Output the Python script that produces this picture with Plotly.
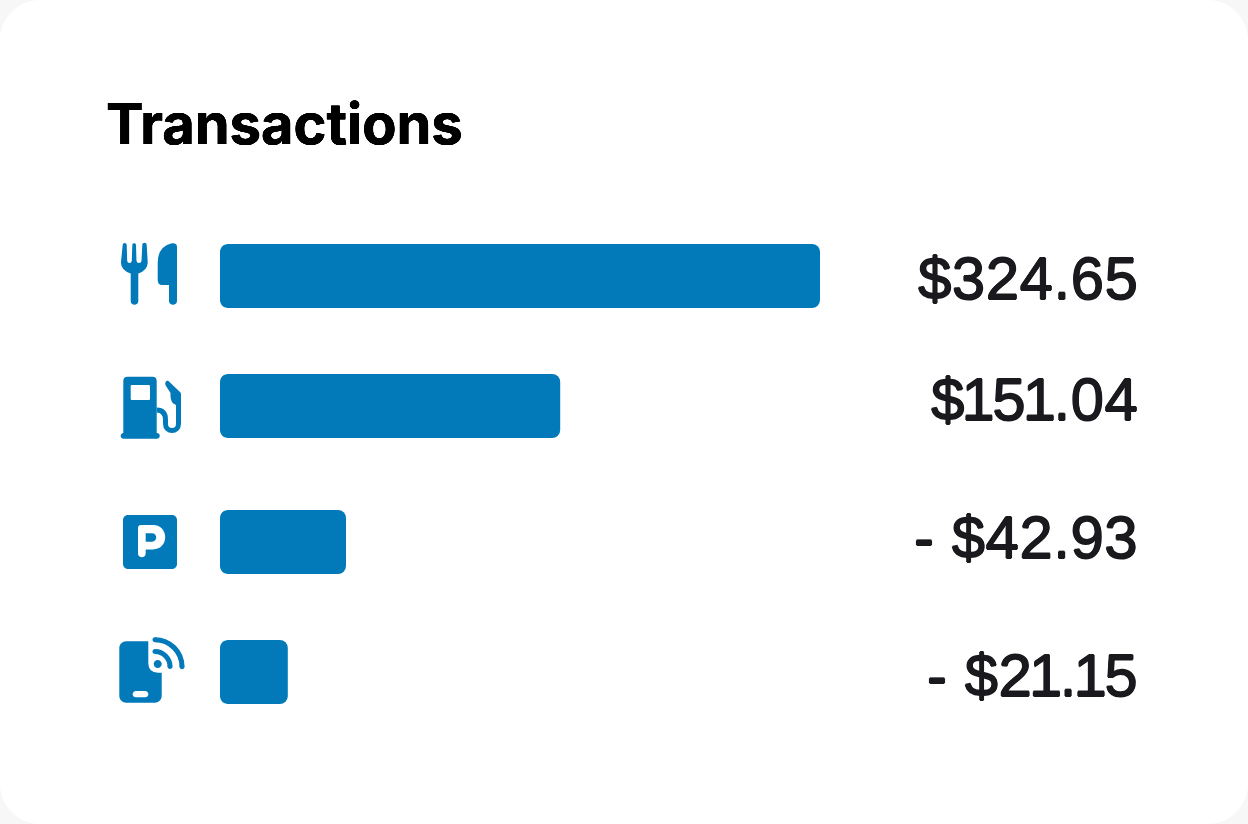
import plotly.graph_objects as go

# Table contents
title = "Transactions"
amounts = ["$324.65", "$151.04", "- $42.93", "- $21.15"]
# Bar lengths on a 0-100 scale; they are not proportional to the printed amounts
bar_lengths = [100, 56.7, 21, 11.3]

# Layout constants (pixels on the 1248x824 canvas)
W, H = 1248, 824
BAR_LEFT, BAR_RIGHT = 220, 820
BAR_THICKNESS = 64
BAR_RADIUS = 8
row_centres = [276, 406, 542, 672]
label_centres = [278, 399, 537, 675]
AMOUNT_RIGHT = 1140
BLUE = "#027ABA"
INK = "#1A1A1E"
OUTSIDE = "#F7F7F7"
CORNER = 40
KAPPA = 0.5523


def embolden(color, amount):
    # Text shadow that thickens a face slightly
    return ", ".join(f"{dx}px {dy}px 0 {color}" for dx, dy in
                     [(amount, 0), (-amount, 0), (0, amount), (0, -amount)])


def set_amount(text):
    # Opens the figures a little and closes up the space on both sides of each narrow 1
    parts = []
    for i, ch in enumerate(text):
        if ch == "1":
            parts.append(f'<span style="letter-spacing:-2.5px">{ch}</span>')
        elif i + 1 < len(text) and text[i + 1] == "1":
            parts.append(f'<span style="letter-spacing:-3px">{ch}</span>')
        else:
            parts.append(ch)
    return f'<span style="letter-spacing:0.5px">{"".join(parts)}</span>'


fig = go.Figure()
fig.add_trace(go.Bar(
    x=bar_lengths, y=row_centres, orientation="h", width=BAR_THICKNESS,
    marker=dict(color=BLUE, line=dict(width=0)), hoverinfo="skip",
    xaxis="x", yaxis="y",
))


def glyph(path, color=BLUE):
    return dict(type="path", xref="x2", yref="y", path=path, fillcolor=color,
                line=dict(width=0), layer="above")


def stroke(path, width=5):
    return dict(type="path", xref="x2", yref="y", path=path,
                fillcolor="rgba(0,0,0,0)", line=dict(color=BLUE, width=width),
                layer="above")


def dot(cx, cy, r, color=BLUE):
    k = KAPPA * r
    return glyph(
        f"M{cx-r},{cy} C{cx-r},{cy-k} {cx-k},{cy-r} {cx},{cy-r} "
        f"C{cx+k},{cy-r} {cx+r},{cy-k} {cx+r},{cy} "
        f"C{cx+r},{cy+k} {cx+k},{cy+r} {cx},{cy+r} "
        f"C{cx-k},{cy+r} {cx-r},{cy+k} {cx-r},{cy} Z", color)


def round_rect(x0, y0, x1, y1, r, color=BLUE):
    k = r - KAPPA * r
    return glyph(
        f"M{x0+r},{y0} H{x1-r} C{x1-k},{y0} {x1},{y0+k} {x1},{y0+r} "
        f"V{y1-r} C{x1},{y1-k} {x1-k},{y1} {x1-r},{y1} "
        f"H{x0+r} C{x0+k},{y1} {x0},{y1-k} {x0},{y1-r} "
        f"V{y0+r} C{x0},{y0+k} {x0+k},{y0} {x0+r},{y0} Z", color)


def quarter_arc(x0, y0, x1, y1):
    # Clockwise quarter circle from a point above the centre to a point right of it
    rx, ry = x1 - x0, y1 - y0
    return f"M{x0},{y0} C{x0+KAPPA*rx},{y0} {x1},{y1-KAPPA*ry} {x1},{y1}"


def corner_fill(cx, cy, sx, sy, r, color):
    # Area outside a rounded rectangle of radius r at the corner (cx, cy)
    k = r * (1 - KAPPA)
    return glyph(
        f"M{cx},{cy} H{cx+sx*r} C{cx+sx*k},{cy} {cx},{cy+sy*k} {cx},{cy+sy*r} Z", color)


shapes = [
    corner_fill(0, 0, 1, 1, CORNER, OUTSIDE), corner_fill(W, 0, -1, 1, CORNER, OUTSIDE),
    corner_fill(0, H, 1, -1, CORNER, OUTSIDE), corner_fill(W, H, -1, -1, CORNER, OUTSIDE),
    # Fork
    glyph("M122.7,245 C122.7,242.3 126.7,242.3 126.7,245 L127.2,261 Q127.5,263 129.5,263 Q131.5,263 131.8,261 "
          "L132.3,245 C132.3,242.5 136,242.5 136,245 L136.5,261 Q136.8,263 139,263 Q141.2,263 141.5,261 "
          "L142.3,245 C142.3,242 146.7,242 146.7,245 L147.7,262 Q148,270 138.3,273.5 L138.3,301 "
          "C138.3,306 130.7,306 130.7,301 L130.7,273.5 Q120.5,270 121,262 Z"),
    # Knife
    glyph("M177,247 L177,301 C177,306 169,306 169,301 L169,285 L162,285 Q157.7,285 157.7,280 L157.7,263 "
          "Q157.7,247 171,243.5 Q177,242.5 177,247 Z"),
    # Fuel pump body, base and window
    glyph("M123.3,433 V381 Q123.3,376.7 127.6,376.7 H152.4 Q156.7,376.7 156.7,381 V433 H157 "
          "C160.7,433 160.7,438.7 157,438.7 H123.5 C119.8,438.7 119.8,433 123.5,433 Z"),
    round_rect(130.7, 385, 150, 400, 1.3, "#FFFFFF"),
    # Fuel hose and nozzle
    stroke("M156.7,410 Q165.5,410 165.5,420 L165.5,424 C165.5,432.7 178.5,432.7 178.5,424 L178.5,400"),
    glyph("M168.7,381.3 L180.5,392.5 Q181,393 181,395 L181,410 L176,410 L176,405 Q170.5,403 170.5,396 "
          "L170.5,393 L166,386 C164,383 166.5,379.5 168.7,381.3 Z"),
    # Parking sign
    round_rect(123, 515, 177, 569, 5),
    glyph("M141,525 H153 C169.3,525 169.3,549.4 153,549.4 H145.7 V553.5 C145.7,558.6 138,558.6 138,553.5 "
          "V528 Q138,525 141,525 Z", "#FFFFFF"),
    glyph("M145.7,533.3 H152 C157.6,533.3 157.6,541.7 152,541.7 H145.7 Z"),
    # Contactless phone
    glyph("M126.3,641.3 H148.3 V663 Q148.3,672.7 158,672.7 H161.7 V695.7 C161.7,699.6 158.6,702.7 154.7,702.7 "
          "H126.3 C122.4,702.7 119.3,699.6 119.3,695.7 V648.3 C119.3,644.4 122.4,641.3 126.3,641.3 Z"),
    round_rect(132.7, 691, 148.3, 697.3, 3.1, "#FFFFFF"),
    dot(157.7, 664, 4),
    stroke(quarter_arc(155, 651.5, 170, 666.5)),
    stroke(quarter_arc(155, 639.7, 182, 666.7)),
    dot(155, 651.5, 2.5), dot(170, 666.5, 2.5),
    dot(155, 639.7, 2.5), dot(182, 666.7, 2.5),
]

# Plotly only rounds the far end of a bar, so the base corners are masked here
for centre in row_centres:
    half = BAR_THICKNESS / 2
    shapes.append(corner_fill(BAR_LEFT, centre - half, 1, 1, BAR_RADIUS, "#FFFFFF"))
    shapes.append(corner_fill(BAR_LEFT, centre + half, 1, -1, BAR_RADIUS, "#FFFFFF"))

annotations = [dict(
    text=title, xref="x2", yref="y", x=104, y=124, xanchor="left", yanchor="middle",
    showarrow=False, font=dict(family="Inter", size=56, color="#000000", weight=700,
                               shadow=embolden("#000000", 0.3)),
)]
for amount, y in zip(amounts, label_centres):
    annotations.append(dict(
        text=set_amount(amount), xref="x2", yref="y", x=AMOUNT_RIGHT, y=y,
        xanchor="right", yanchor="middle", showarrow=False,
        font=dict(family="Liberation Sans", size=60, color=INK, shadow=embolden(INK, 0.7)),
    ))

fig.update_layout(
    width=W, height=H, margin=dict(l=0, r=0, t=0, b=0), showlegend=False,
    paper_bgcolor="#FFFFFF", plot_bgcolor="rgba(0,0,0,0)",
    barcornerradius=BAR_RADIUS,
    xaxis=dict(domain=[BAR_LEFT / W, BAR_RIGHT / W], range=[0, 100], visible=False, fixedrange=True),
    xaxis2=dict(domain=[0, 1], range=[0, W], visible=False, anchor="y", fixedrange=True),
    yaxis=dict(domain=[0, 1], range=[H, 0], visible=False, fixedrange=True),
    shapes=shapes, annotations=annotations,
)

fig.write_html("out.html", config=dict(displayModeBar=False))
